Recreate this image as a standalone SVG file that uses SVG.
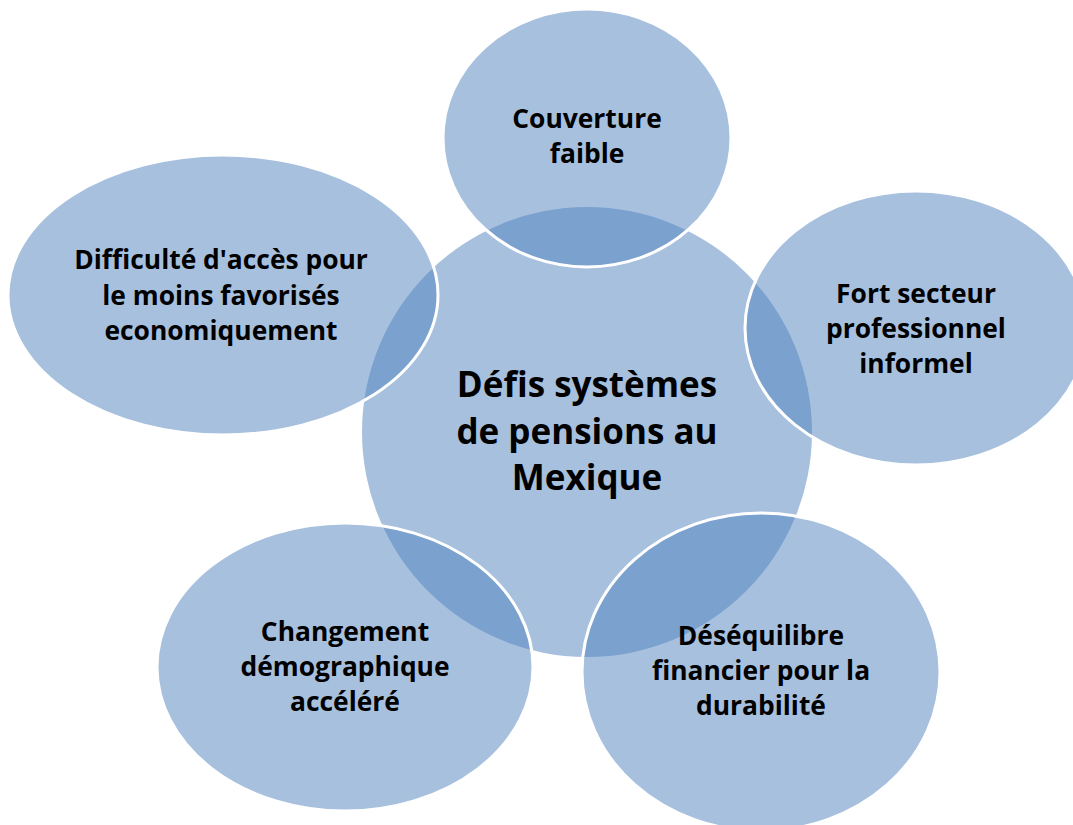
<svg xmlns="http://www.w3.org/2000/svg" width="1073" height="825" viewBox="0 0 1073 825">
<style>
.c{fill:#4F81BD;fill-opacity:0.5}
.s{fill:#4F81BD;fill-opacity:0.5;stroke:#FFFFFF;stroke-width:3}
text{font-family:"Open Sans",Lato,"Liberation Sans",sans-serif;font-weight:bold;fill:#000;text-anchor:middle}
.t{font-size:26.4px}
.m{font-size:35px}
</style>
<rect width="1073" height="825" fill="#FFFFFF"/>
<g id="center">
<circle class="c" cx="587" cy="432" r="225"/>
<text class="m" x="587" y="397">Défis systèmes</text>
<text class="m" x="587" y="444">de pensions au</text>
<text class="m" x="587" y="490">Mexique</text>
</g>
<g id="top">
<ellipse class="s" cx="587" cy="138" rx="144" ry="129"/>
<text class="t" x="587" y="128">Couverture</text>
<text class="t" x="587" y="163">faible</text>
</g>
<g id="right">
<ellipse class="s" cx="916" cy="328" rx="171" ry="137"/>
<text class="t" x="916" y="303">Fort secteur</text>
<text class="t" x="916" y="338">professionnel</text>
<text class="t" x="916" y="373">informel</text>
</g>
<g id="bottom-right">
<ellipse class="s" cx="761" cy="672" rx="179" ry="159"/>
<text class="t" x="761" y="645">Déséquilibre</text>
<text class="t" x="761" y="680">financier pour la</text>
<text class="t" x="761" y="715">durabilité</text>
</g>
<g id="bottom-left">
<ellipse class="s" cx="345" cy="667" rx="188" ry="144"/>
<text class="t" x="345" y="641">Changement</text>
<text class="t" x="345" y="676">démographique</text>
<text class="t" x="345" y="711">accéléré</text>
</g>
<g id="left">
<ellipse class="s" cx="223" cy="295" rx="215" ry="140"/>
<text class="t" x="221" y="269">Difficulté d'accès pour</text>
<text class="t" x="221" y="305">le moins favorisés</text>
<text class="t" x="221" y="340">economiquement</text>
</g>
<g id="connectors"/>
</svg>
